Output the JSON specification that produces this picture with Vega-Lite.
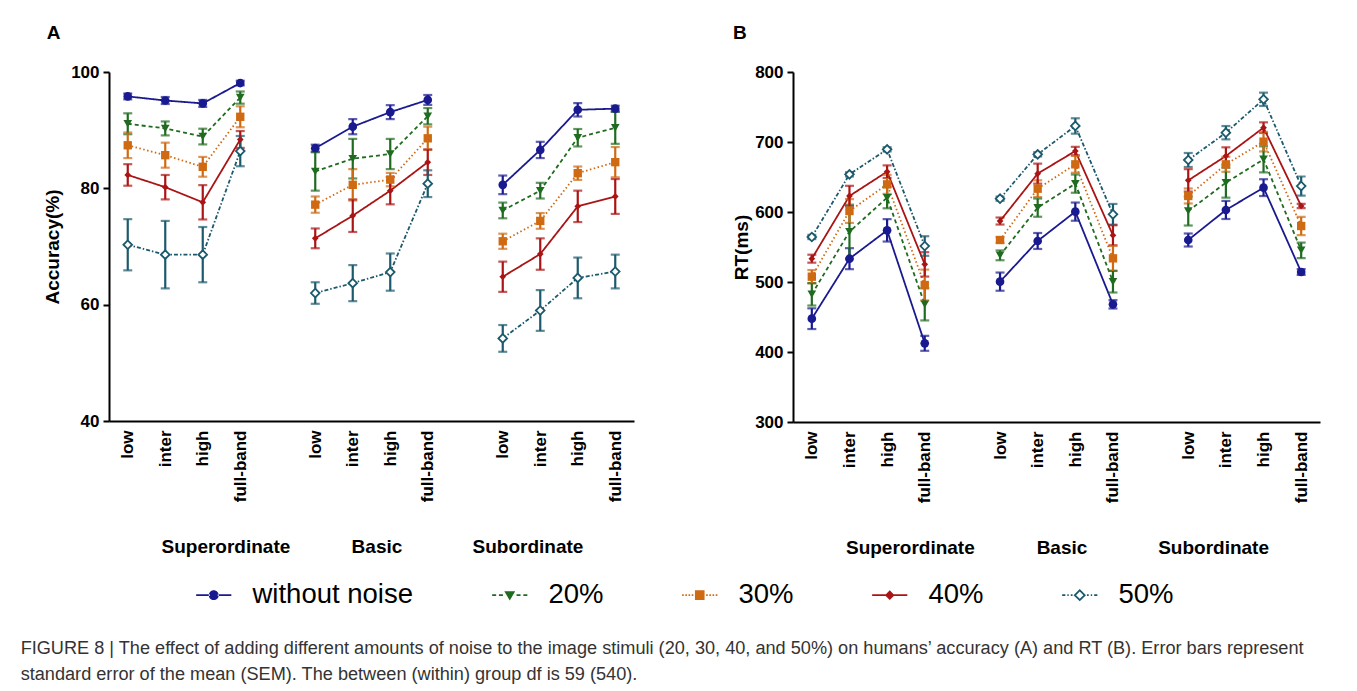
{
  "$schema": "https://vega.github.io/schema/vega-lite/v6.json",
  "padding": {"left": 20, "top": 24, "right": 5, "bottom": 5},
  "background": "white",
  "datasets": {
    "accuracy": [
      {"series": "without noise", "group": "Superordinate", "level": "low", "mean": 95.8, "sem": 0.5},
      {"series": "without noise", "group": "Superordinate", "level": "inter", "mean": 95.1, "sem": 0.6},
      {"series": "without noise", "group": "Superordinate", "level": "high", "mean": 94.6, "sem": 0.6},
      {"series": "without noise", "group": "Superordinate", "level": "full-band", "mean": 98.1, "sem": 0.4},
      {"series": "without noise", "group": "Basic", "level": "low", "mean": 86.9, "sem": 0.6},
      {"series": "without noise", "group": "Basic", "level": "inter", "mean": 90.6, "sem": 1.3},
      {"series": "without noise", "group": "Basic", "level": "high", "mean": 93.1, "sem": 1.2},
      {"series": "without noise", "group": "Basic", "level": "full-band", "mean": 95.2, "sem": 0.85},
      {"series": "without noise", "group": "Subordinate", "level": "low", "mean": 80.6, "sem": 1.6},
      {"series": "without noise", "group": "Subordinate", "level": "inter", "mean": 86.6, "sem": 1.4},
      {"series": "without noise", "group": "Subordinate", "level": "high", "mean": 93.5, "sem": 1.15},
      {"series": "without noise", "group": "Subordinate", "level": "full-band", "mean": 93.7, "sem": 0.5},
      {"series": "20%", "group": "Superordinate", "level": "low", "mean": 91.1, "sem": 1.8},
      {"series": "20%", "group": "Superordinate", "level": "inter", "mean": 90.3, "sem": 1.2},
      {"series": "20%", "group": "Superordinate", "level": "high", "mean": 88.9, "sem": 1.35},
      {"series": "20%", "group": "Superordinate", "level": "full-band", "mean": 95.6, "sem": 1.05},
      {"series": "20%", "group": "Basic", "level": "low", "mean": 82.9, "sem": 3.3},
      {"series": "20%", "group": "Basic", "level": "inter", "mean": 85.1, "sem": 3.4},
      {"series": "20%", "group": "Basic", "level": "high", "mean": 85.9, "sem": 2.6},
      {"series": "20%", "group": "Basic", "level": "full-band", "mean": 92.4, "sem": 1.4},
      {"series": "20%", "group": "Subordinate", "level": "low", "mean": 76.2, "sem": 1.35},
      {"series": "20%", "group": "Subordinate", "level": "inter", "mean": 79.6, "sem": 1.35},
      {"series": "20%", "group": "Subordinate", "level": "high", "mean": 88.7, "sem": 1.5},
      {"series": "20%", "group": "Subordinate", "level": "full-band", "mean": 90.4, "sem": 2.75},
      {"series": "30%", "group": "Superordinate", "level": "low", "mean": 87.4, "sem": 2.2},
      {"series": "30%", "group": "Superordinate", "level": "inter", "mean": 85.7, "sem": 2.15},
      {"series": "30%", "group": "Superordinate", "level": "high", "mean": 83.7, "sem": 1.7},
      {"series": "30%", "group": "Superordinate", "level": "full-band", "mean": 92.3, "sem": 1.8},
      {"series": "30%", "group": "Basic", "level": "low", "mean": 77.2, "sem": 1.4},
      {"series": "30%", "group": "Basic", "level": "inter", "mean": 80.6, "sem": 2.7},
      {"series": "30%", "group": "Basic", "level": "high", "mean": 81.5, "sem": 1.15},
      {"series": "30%", "group": "Basic", "level": "full-band", "mean": 88.6, "sem": 2.0},
      {"series": "30%", "group": "Subordinate", "level": "low", "mean": 70.9, "sem": 1.3},
      {"series": "30%", "group": "Subordinate", "level": "inter", "mean": 74.4, "sem": 1.35},
      {"series": "30%", "group": "Subordinate", "level": "high", "mean": 82.6, "sem": 1.15},
      {"series": "30%", "group": "Subordinate", "level": "full-band", "mean": 84.5, "sem": 2.6},
      {"series": "40%", "group": "Superordinate", "level": "low", "mean": 82.3, "sem": 1.85},
      {"series": "40%", "group": "Superordinate", "level": "inter", "mean": 80.2, "sem": 2.1},
      {"series": "40%", "group": "Superordinate", "level": "high", "mean": 77.6, "sem": 2.95},
      {"series": "40%", "group": "Superordinate", "level": "full-band", "mean": 88.4, "sem": 1.45},
      {"series": "40%", "group": "Basic", "level": "low", "mean": 71.4, "sem": 1.7},
      {"series": "40%", "group": "Basic", "level": "inter", "mean": 75.3, "sem": 2.8},
      {"series": "40%", "group": "Basic", "level": "high", "mean": 79.6, "sem": 2.35},
      {"series": "40%", "group": "Basic", "level": "full-band", "mean": 84.5, "sem": 2.2},
      {"series": "40%", "group": "Subordinate", "level": "low", "mean": 64.8, "sem": 2.6},
      {"series": "40%", "group": "Subordinate", "level": "inter", "mean": 68.7, "sem": 2.7},
      {"series": "40%", "group": "Subordinate", "level": "high", "mean": 76.9, "sem": 2.7},
      {"series": "40%", "group": "Subordinate", "level": "full-band", "mean": 78.6, "sem": 3.0},
      {"series": "50%", "group": "Superordinate", "level": "low", "mean": 70.3, "sem": 4.4},
      {"series": "50%", "group": "Superordinate", "level": "inter", "mean": 68.6, "sem": 5.8},
      {"series": "50%", "group": "Superordinate", "level": "high", "mean": 68.6, "sem": 4.75},
      {"series": "50%", "group": "Superordinate", "level": "full-band", "mean": 86.4, "sem": 2.6},
      {"series": "50%", "group": "Basic", "level": "low", "mean": 62.0, "sem": 1.85},
      {"series": "50%", "group": "Basic", "level": "inter", "mean": 63.7, "sem": 3.1},
      {"series": "50%", "group": "Basic", "level": "high", "mean": 65.6, "sem": 3.2},
      {"series": "50%", "group": "Basic", "level": "full-band", "mean": 80.8, "sem": 2.3},
      {"series": "50%", "group": "Subordinate", "level": "low", "mean": 54.2, "sem": 2.3},
      {"series": "50%", "group": "Subordinate", "level": "inter", "mean": 59.0, "sem": 3.5},
      {"series": "50%", "group": "Subordinate", "level": "high", "mean": 64.6, "sem": 3.5},
      {"series": "50%", "group": "Subordinate", "level": "full-band", "mean": 65.7, "sem": 2.9}
    ],
    "rt": [
      {"series": "without noise", "group": "Superordinate", "level": "low", "mean": 447.6, "sem": 14.8},
      {"series": "without noise", "group": "Superordinate", "level": "inter", "mean": 533.3, "sem": 15},
      {"series": "without noise", "group": "Superordinate", "level": "high", "mean": 573.8, "sem": 16},
      {"series": "without noise", "group": "Superordinate", "level": "full-band", "mean": 412.4, "sem": 10.7},
      {"series": "without noise", "group": "Basic", "level": "low", "mean": 500.5, "sem": 13},
      {"series": "without noise", "group": "Basic", "level": "inter", "mean": 558.6, "sem": 11.4},
      {"series": "without noise", "group": "Basic", "level": "high", "mean": 600.5, "sem": 13},
      {"series": "without noise", "group": "Basic", "level": "full-band", "mean": 468.1, "sem": 6},
      {"series": "without noise", "group": "Subordinate", "level": "low", "mean": 560, "sem": 9.3},
      {"series": "without noise", "group": "Subordinate", "level": "inter", "mean": 602.9, "sem": 12.9},
      {"series": "without noise", "group": "Subordinate", "level": "high", "mean": 634.8, "sem": 12},
      {"series": "without noise", "group": "Subordinate", "level": "full-band", "mean": 514.3, "sem": 4},
      {"series": "20%", "group": "Superordinate", "level": "low", "mean": 482.4, "sem": 16},
      {"series": "20%", "group": "Superordinate", "level": "inter", "mean": 571.9, "sem": 38.6},
      {"series": "20%", "group": "Superordinate", "level": "high", "mean": 620.5, "sem": 15.2},
      {"series": "20%", "group": "Superordinate", "level": "full-band", "mean": 468.1, "sem": 23},
      {"series": "20%", "group": "Basic", "level": "low", "mean": 538.1, "sem": 7},
      {"series": "20%", "group": "Basic", "level": "inter", "mean": 606.2, "sem": 13},
      {"series": "20%", "group": "Basic", "level": "high", "mean": 640.5, "sem": 13},
      {"series": "20%", "group": "Basic", "level": "full-band", "mean": 500.5, "sem": 15.5},
      {"series": "20%", "group": "Subordinate", "level": "low", "mean": 601.4, "sem": 20.7},
      {"series": "20%", "group": "Subordinate", "level": "inter", "mean": 641.9, "sem": 21.4},
      {"series": "20%", "group": "Subordinate", "level": "high", "mean": 675.2, "sem": 18.6},
      {"series": "20%", "group": "Subordinate", "level": "full-band", "mean": 545.2, "sem": 11},
      {"series": "30%", "group": "Superordinate", "level": "low", "mean": 507.6, "sem": 9.5},
      {"series": "30%", "group": "Superordinate", "level": "inter", "mean": 601.4, "sem": 17},
      {"series": "30%", "group": "Superordinate", "level": "high", "mean": 639.5, "sem": 13.6},
      {"series": "30%", "group": "Superordinate", "level": "full-band", "mean": 495.7, "sem": 22},
      {"series": "30%", "group": "Basic", "level": "low", "mean": 560, "sem": 4},
      {"series": "30%", "group": "Basic", "level": "inter", "mean": 633.3, "sem": 12},
      {"series": "30%", "group": "Basic", "level": "high", "mean": 668.1, "sem": 12},
      {"series": "30%", "group": "Basic", "level": "full-band", "mean": 533.8, "sem": 18},
      {"series": "30%", "group": "Subordinate", "level": "low", "mean": 622.9, "sem": 10.7},
      {"series": "30%", "group": "Subordinate", "level": "inter", "mean": 668.1, "sem": 10.7},
      {"series": "30%", "group": "Subordinate", "level": "high", "mean": 700.5, "sem": 14},
      {"series": "30%", "group": "Subordinate", "level": "full-band", "mean": 580, "sem": 12.9},
      {"series": "40%", "group": "Superordinate", "level": "low", "mean": 533.3, "sem": 5.7},
      {"series": "40%", "group": "Superordinate", "level": "inter", "mean": 622.9, "sem": 14.5},
      {"series": "40%", "group": "Superordinate", "level": "high", "mean": 657.6, "sem": 9},
      {"series": "40%", "group": "Superordinate", "level": "full-band", "mean": 525.2, "sem": 17.4},
      {"series": "40%", "group": "Basic", "level": "low", "mean": 587.1, "sem": 5},
      {"series": "40%", "group": "Basic", "level": "inter", "mean": 654.8, "sem": 14.3},
      {"series": "40%", "group": "Basic", "level": "high", "mean": 687.1, "sem": 6},
      {"series": "40%", "group": "Basic", "level": "full-band", "mean": 566.7, "sem": 14.3},
      {"series": "40%", "group": "Subordinate", "level": "low", "mean": 645.2, "sem": 16},
      {"series": "40%", "group": "Subordinate", "level": "inter", "mean": 680, "sem": 12.4},
      {"series": "40%", "group": "Subordinate", "level": "high", "mean": 720.5, "sem": 7.6},
      {"series": "40%", "group": "Subordinate", "level": "full-band", "mean": 608.6, "sem": 3},
      {"series": "50%", "group": "Superordinate", "level": "low", "mean": 564.3, "sem": 3},
      {"series": "50%", "group": "Superordinate", "level": "inter", "mean": 653.8, "sem": 3},
      {"series": "50%", "group": "Superordinate", "level": "high", "mean": 689.5, "sem": 3},
      {"series": "50%", "group": "Superordinate", "level": "full-band", "mean": 551.4, "sem": 14},
      {"series": "50%", "group": "Basic", "level": "low", "mean": 619.0, "sem": 3},
      {"series": "50%", "group": "Basic", "level": "inter", "mean": 682.4, "sem": 3},
      {"series": "50%", "group": "Basic", "level": "high", "mean": 722.9, "sem": 11},
      {"series": "50%", "group": "Basic", "level": "full-band", "mean": 596.7, "sem": 14.8},
      {"series": "50%", "group": "Subordinate", "level": "low", "mean": 674.3, "sem": 10},
      {"series": "50%", "group": "Subordinate", "level": "inter", "mean": 713.3, "sem": 9.5},
      {"series": "50%", "group": "Subordinate", "level": "high", "mean": 761, "sem": 9.5},
      {"series": "50%", "group": "Subordinate", "level": "full-band", "mean": 637.1, "sem": 13.6}
    ]
  },
  "hconcat": [
    {
      "width": 525,
      "height": 349,
      "title": {"text": "A", "anchor": "start", "fontSize": 19, "fontWeight": "bold", "color": "black", "dx": 3, "offset": 20},
      "data": {"name": "accuracy"},
      "transform": [{"calculate": "datum.group + '|' + datum.level", "as": "cell"}],
      "layer": [
        {
          "encoding": {
            "x": {"field": "cell", "type": "nominal", "scale": {"type": "point", "padding": 0.5, "domain": ["Superordinate|low", "Superordinate|inter", "Superordinate|high", "Superordinate|full-band", "_gap1", "Basic|low", "Basic|inter", "Basic|high", "Basic|full-band", "_gap2", "Subordinate|low", "Subordinate|inter", "Subordinate|high", "Subordinate|full-band"]}, "axis": {"values": ["Superordinate|low", "Superordinate|inter", "Superordinate|high", "Superordinate|full-band", "Basic|low", "Basic|inter", "Basic|high", "Basic|full-band", "Subordinate|low", "Subordinate|inter", "Subordinate|high", "Subordinate|full-band"], "labelExpr": "split(datum.label, '|')[1]", "labelAngle": -90, "ticks": false, "title": null, "labelPadding": 9}},
            "y": {"field": "mean", "type": "quantitative", "scale": {"domain": [40, 100], "nice": false, "zero": false}, "axis": {"values": [40, 60, 80, 100], "title": "Accuracy(%)", "titlePadding": 8, "labelPadding": 4}}
          },
          "layer": [
            {
              "mark": {"type": "line", "strokeWidth": 1.8},
              "encoding": {
                "color": {"field": "series", "type": "nominal", "scale": {"domain": ["without noise", "20%", "30%", "40%", "50%"], "range": ["#1a1a90", "#1f6b1f", "#cf6a12", "#aa1414", "#1b5a6c"]},
                  "legend": {"orient": "none", "legendX": 91, "legendY": 509, "direction": "horizontal", "columns": 5, "title": null, "labelFont": "Liberation Sans", "labelFontSize": 27.5, "labelFontWeight": "normal", "labelColor": "black", "labelLimit": 400, "labelOffset": 25, "columnPadding": 78, "symbolSize": 256, "symbolStrokeWidth": 0, "symbolType": "circle",
                    "encode": {"symbols": {"update": {
                      "shape": {"signal": "datum.value === 'without noise' ? 'M-2.2,-0.12H-0.5V0.12H-2.2ZM0.5,-0.12H2.2V0.12H0.5ZM-0.62,0A0.62,0.62,0,1,0,0.62,0A0.62,0.62,0,1,0,-0.62,0Z' : datum.value === '20%' ? 'M-2.2,-0.1H-1.7V0.1H-2.2ZM-1.35,-0.1H-0.85V0.1H-1.35ZM0.85,-0.1H1.35V0.1H0.85ZM1.7,-0.1H2.2V0.1H1.7ZM-0.68,-0.5H0.68L0,0.68Z' : datum.value === '30%' ? 'M-2.2,-0.1H-2.0V0.1H-2.2ZM-1.8,-0.1H-1.6V0.1H-1.8ZM-1.4,-0.1H-1.2V0.1H-1.4ZM-1.0,-0.1H-0.8V0.1H-1.0ZM0.8,-0.1H1.0V0.1H0.8ZM1.2,-0.1H1.4V0.1H1.2ZM1.6,-0.1H1.8V0.1H1.6ZM2.0,-0.1H2.2V0.1H2.0ZM-0.6,-0.6H0.6V0.6H-0.6Z' : datum.value === '40%' ? 'M-2.2,-0.12H-0.5V0.12H-2.2ZM0.5,-0.12H2.2V0.12H0.5ZM0,-0.6L0.6,0L0,0.6L-0.6,0Z' : 'M-2.2,-0.1H-1.8V0.1H-2.2ZM-1.55,-0.1H-1.38V0.1H-1.55ZM-1.12,-0.1H-0.9V0.1H-1.12ZM0.9,-0.1H1.12V0.1H0.9ZM1.38,-0.1H1.55V0.1H1.38ZM1.8,-0.1H2.2V0.1H1.8ZM0,-0.78L0.78,0L0,0.78L-0.78,0ZM0,-0.46L-0.46,0L0,0.46L0.46,0Z'"},
                      "fill": {"signal": "scale('color', datum.value)"},
                      "fillOpacity": {"value": 1},
                      "stroke": {"value": "transparent"},
                      "strokeWidth": {"value": 0},
                      "opacity": {"value": 1}
                    }}}
                  }
                },
                "strokeDash": {"field": "series", "type": "nominal", "scale": {"domain": ["without noise", "20%", "30%", "40%", "50%"], "range": [[1, 0], [4, 3], [1.5, 2.5], [1, 0], [4, 2, 1.5, 2]]}, "legend": null},
                "detail": {"field": "group"},
                "order": {"value": null}
              }
            },
            {
              "mark": {"type": "errorbar", "thickness": 2.2, "ticks": {"size": 9, "thickness": 2.2}},
              "encoding": {
                "y": {"field": "mean", "type": "quantitative", "title": "Accuracy(%)"},
                "yError": {"field": "sem"},
                "color": {"field": "series", "type": "nominal"}
              }
            },
            {"transform": [{"filter": {"field": "series", "equal": "without noise"}}], "mark": {"type": "point", "shape": "circle", "filled": true, "color": "#1a1a90", "size": 75, "opacity": 1}},
            {"transform": [{"filter": {"field": "series", "equal": "20%"}}], "mark": {"type": "point", "shape": "triangle-down", "filled": true, "color": "#1f6b1f", "size": 75, "opacity": 1}},
            {"transform": [{"filter": {"field": "series", "equal": "30%"}}], "mark": {"type": "point", "shape": "square", "filled": true, "color": "#cf6a12", "size": 70, "opacity": 1}},
            {"transform": [{"filter": {"field": "series", "equal": "40%"}}], "mark": {"type": "point", "shape": "diamond", "filled": true, "color": "#aa1414", "size": 45, "opacity": 1}},
            {"transform": [{"filter": {"field": "series", "equal": "50%"}}], "mark": {"type": "point", "shape": "diamond", "filled": false, "fill": "white", "stroke": "#1b5a6c", "strokeWidth": 1.8, "size": 75, "opacity": 1}}
          ]
        },
        {
          "mark": {"type": "rule", "strokeOpacity": 0},
          "encoding": {
            "x": {"field": "group", "type": "nominal", "scale": {"type": "band", "domain": ["Superordinate", "Basic", "Subordinate"], "paddingInner": 0.5, "paddingOuter": 0.488, "align": 0.537}, "axis": {"orient": "bottom", "offset": 116, "domain": false, "ticks": false, "labelAngle": 0, "labelFontSize": 19, "labelPadding": 0, "labelBaseline": "top", "title": null}}
          }
        }
      ],
      "resolve": {"scale": {"x": "independent"}, "axis": {"x": "independent"}}
    },
    {
      "width": 527,
      "height": 350,
      "title": {"text": "B", "anchor": "start", "frame": "group", "fontSize": 19, "fontWeight": "bold", "color": "black", "dx": -60, "offset": 20},
      "data": {"name": "rt"},
      "transform": [{"calculate": "datum.group + '|' + datum.level", "as": "cell"}],
      "layer": [
        {
          "encoding": {
            "x": {"field": "cell", "type": "nominal", "scale": {"type": "point", "padding": 0.5, "domain": ["Superordinate|low", "Superordinate|inter", "Superordinate|high", "Superordinate|full-band", "_gap1", "Basic|low", "Basic|inter", "Basic|high", "Basic|full-band", "_gap2", "Subordinate|low", "Subordinate|inter", "Subordinate|high", "Subordinate|full-band"]}, "axis": {"values": ["Superordinate|low", "Superordinate|inter", "Superordinate|high", "Superordinate|full-band", "Basic|low", "Basic|inter", "Basic|high", "Basic|full-band", "Subordinate|low", "Subordinate|inter", "Subordinate|high", "Subordinate|full-band"], "labelExpr": "split(datum.label, '|')[1]", "labelAngle": -90, "ticks": false, "title": null, "labelPadding": 9}},
            "y": {"field": "mean", "type": "quantitative", "scale": {"domain": [300, 800], "nice": false, "zero": false}, "axis": {"values": [300, 400, 500, 600, 700, 800], "title": "RT(ms)", "titlePadding": 3, "labelPadding": 4}}
          },
          "layer": [
            {
              "mark": {"type": "line", "strokeWidth": 1.8},
              "encoding": {
                "color": {"field": "series", "type": "nominal"},
                "strokeDash": {"field": "series", "type": "nominal", "legend": null},
                "detail": {"field": "group"},
                "order": {"value": null}
              }
            },
            {
              "mark": {"type": "errorbar", "thickness": 2.2, "ticks": {"size": 9, "thickness": 2.2}},
              "encoding": {
                "y": {"field": "mean", "type": "quantitative", "title": "RT(ms)"},
                "yError": {"field": "sem"},
                "color": {"field": "series", "type": "nominal"}
              }
            },
            {"transform": [{"filter": {"field": "series", "equal": "without noise"}}], "mark": {"type": "point", "shape": "circle", "filled": true, "color": "#1a1a90", "size": 75, "opacity": 1}},
            {"transform": [{"filter": {"field": "series", "equal": "20%"}}], "mark": {"type": "point", "shape": "triangle-down", "filled": true, "color": "#1f6b1f", "size": 75, "opacity": 1}},
            {"transform": [{"filter": {"field": "series", "equal": "30%"}}], "mark": {"type": "point", "shape": "square", "filled": true, "color": "#cf6a12", "size": 70, "opacity": 1}},
            {"transform": [{"filter": {"field": "series", "equal": "40%"}}], "mark": {"type": "point", "shape": "diamond", "filled": true, "color": "#aa1414", "size": 45, "opacity": 1}},
            {"transform": [{"filter": {"field": "series", "equal": "50%"}}], "mark": {"type": "point", "shape": "diamond", "filled": false, "fill": "white", "stroke": "#1b5a6c", "strokeWidth": 1.8, "size": 75, "opacity": 1}}
          ]
        },
        {
          "mark": {"type": "rule", "strokeOpacity": 0},
          "encoding": {
            "x": {"field": "group", "type": "nominal", "scale": {"type": "band", "domain": ["Superordinate", "Basic", "Subordinate"], "paddingInner": 0.5, "paddingOuter": 0.488, "align": 0.537}, "axis": {"orient": "bottom", "offset": 116, "domain": false, "ticks": false, "labelAngle": 0, "labelFontSize": 19, "labelPadding": 0, "labelBaseline": "top", "title": null}}
          }
        }
      ],
      "resolve": {"scale": {"x": "independent"}, "axis": {"x": "independent"}}
    }
  ],
  "spacing": 98,
  "title": {
    "text": ["FIGURE 8 | The effect of adding different amounts of noise to the image stimuli (20, 30, 40, and 50%) on humans’ accuracy (A) and RT (B). Error bars represent", "standard error of the mean (SEM). The between (within) group df is 59 (540)."],
    "orient": "bottom", "anchor": "start", "font": "Liberation Sans", "fontSize": 18.15, "fontWeight": "normal", "color": "#333333", "lineHeight": 26, "dx": -23, "offset": 31
  },
  "config": {
    "view": {"stroke": null},
    "font": "Liberation Sans",
    "axis": {"domainColor": "black", "domainWidth": 2, "tickColor": "black", "tickWidth": 2, "tickSize": 6, "labelFont": "Liberation Sans", "labelFontSize": 17, "labelFontWeight": "bold", "labelColor": "black", "titleFont": "Liberation Sans", "titleFontSize": 19, "titleFontWeight": "bold", "titleColor": "black", "grid": false}
  }
}
